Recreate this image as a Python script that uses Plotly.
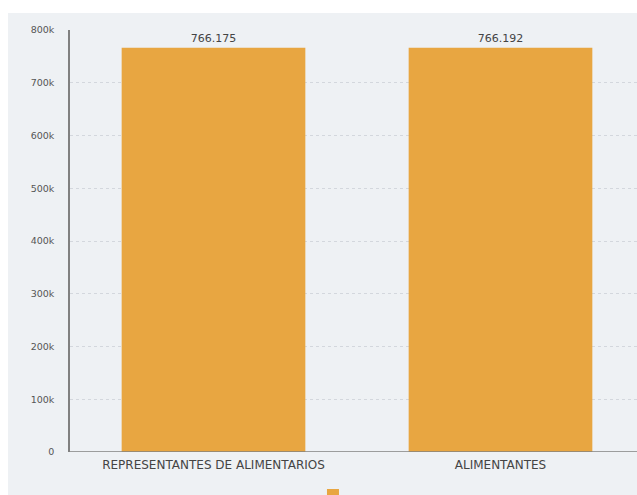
import plotly.graph_objects as go

categories = ["REPRESENTANTES DE ALIMENTARIOS", "ALIMENTANTES"]
values = [766175, 766192]
tick_vals = [0, 100000, 200000, 300000, 400000, 500000, 600000, 700000, 800000]
tick_text = ["0", "100k", "200k", "300k", "400k", "500k", "600k", "700k", "800k"]

W, H = 637, 495
L, R, T, B = 70, 0, 30, 43
PW, PH = W - L - R, H - T - B

fig = go.Figure()
fig.add_trace(go.Bar(
    x=[0, 1], y=values,
    marker=dict(color="#E8A641", line=dict(width=0)),
    width=0.64,
    texttemplate="%{y:,}", textposition="outside",
    textfont=dict(family="DejaVu Sans", size=11, color="#444"),
    cliponaxis=False,
    name=" ", showlegend=True,
))

gray = "#EEF1F4"
fig.update_layout(
    width=W, height=H,
    margin=dict(l=L, r=R, t=T, b=B, pad=0, autoexpand=False),
    paper_bgcolor=gray, plot_bgcolor=gray,
    separators=",.",
    font=dict(family="DejaVu Sans", size=10, color="#555"),
    legend=dict(orientation="h", xref="container", yref="container",
                x=0.529, xanchor="center", y=-0.008, yanchor="middle",
                font=dict(size=9), bgcolor="rgba(0,0,0,0)"),
    xaxis=dict(
        range=[-0.5, -0.5 + PW / 287.0],
        tickvals=[0, 1], ticktext=categories,
        showgrid=False, zeroline=False,
        showline=False, ticks="", ticklabelstandoff=4,
        tickfont=dict(family="DejaVu Sans", size=12, color="#444"),
    ),
    yaxis=dict(
        range=[0, 800000],
        tickvals=tick_vals, ticktext=tick_text,
        showgrid=True, gridcolor="#D3D7DD", griddash="dot", gridwidth=1,
        zeroline=False, showline=True, linecolor="#808080", linewidth=1.5,
        ticks="", ticklabelstandoff=12,
        tickfont=dict(family="DejaVu Sans", size=9.5, color="#555"),
    ),
    shapes=[
        dict(type="rect", xref="paper", yref="paper", x0=-L / PW - 0.01, x1=1.01,
             y0=1 + (T - 13) / PH, y1=1 + T / PH + 0.01,
             fillcolor="white", line=dict(width=0), layer="below"),
        dict(type="rect", xref="paper", yref="paper", x0=-L / PW - 0.01, x1=-(L - 8) / PW,
             y0=-B / PH - 0.01, y1=1 + T / PH + 0.01,
             fillcolor="white", line=dict(width=0), layer="below"),
        dict(type="line", xref="paper", yref="y", x0=0, x1=1, y0=0, y1=0,
             line=dict(color="#808080", width=1.5)),
    ],
)

fig.write_html("out.html", config={"displayModeBar": False},
               post_script="document.body.style.margin='0';")
